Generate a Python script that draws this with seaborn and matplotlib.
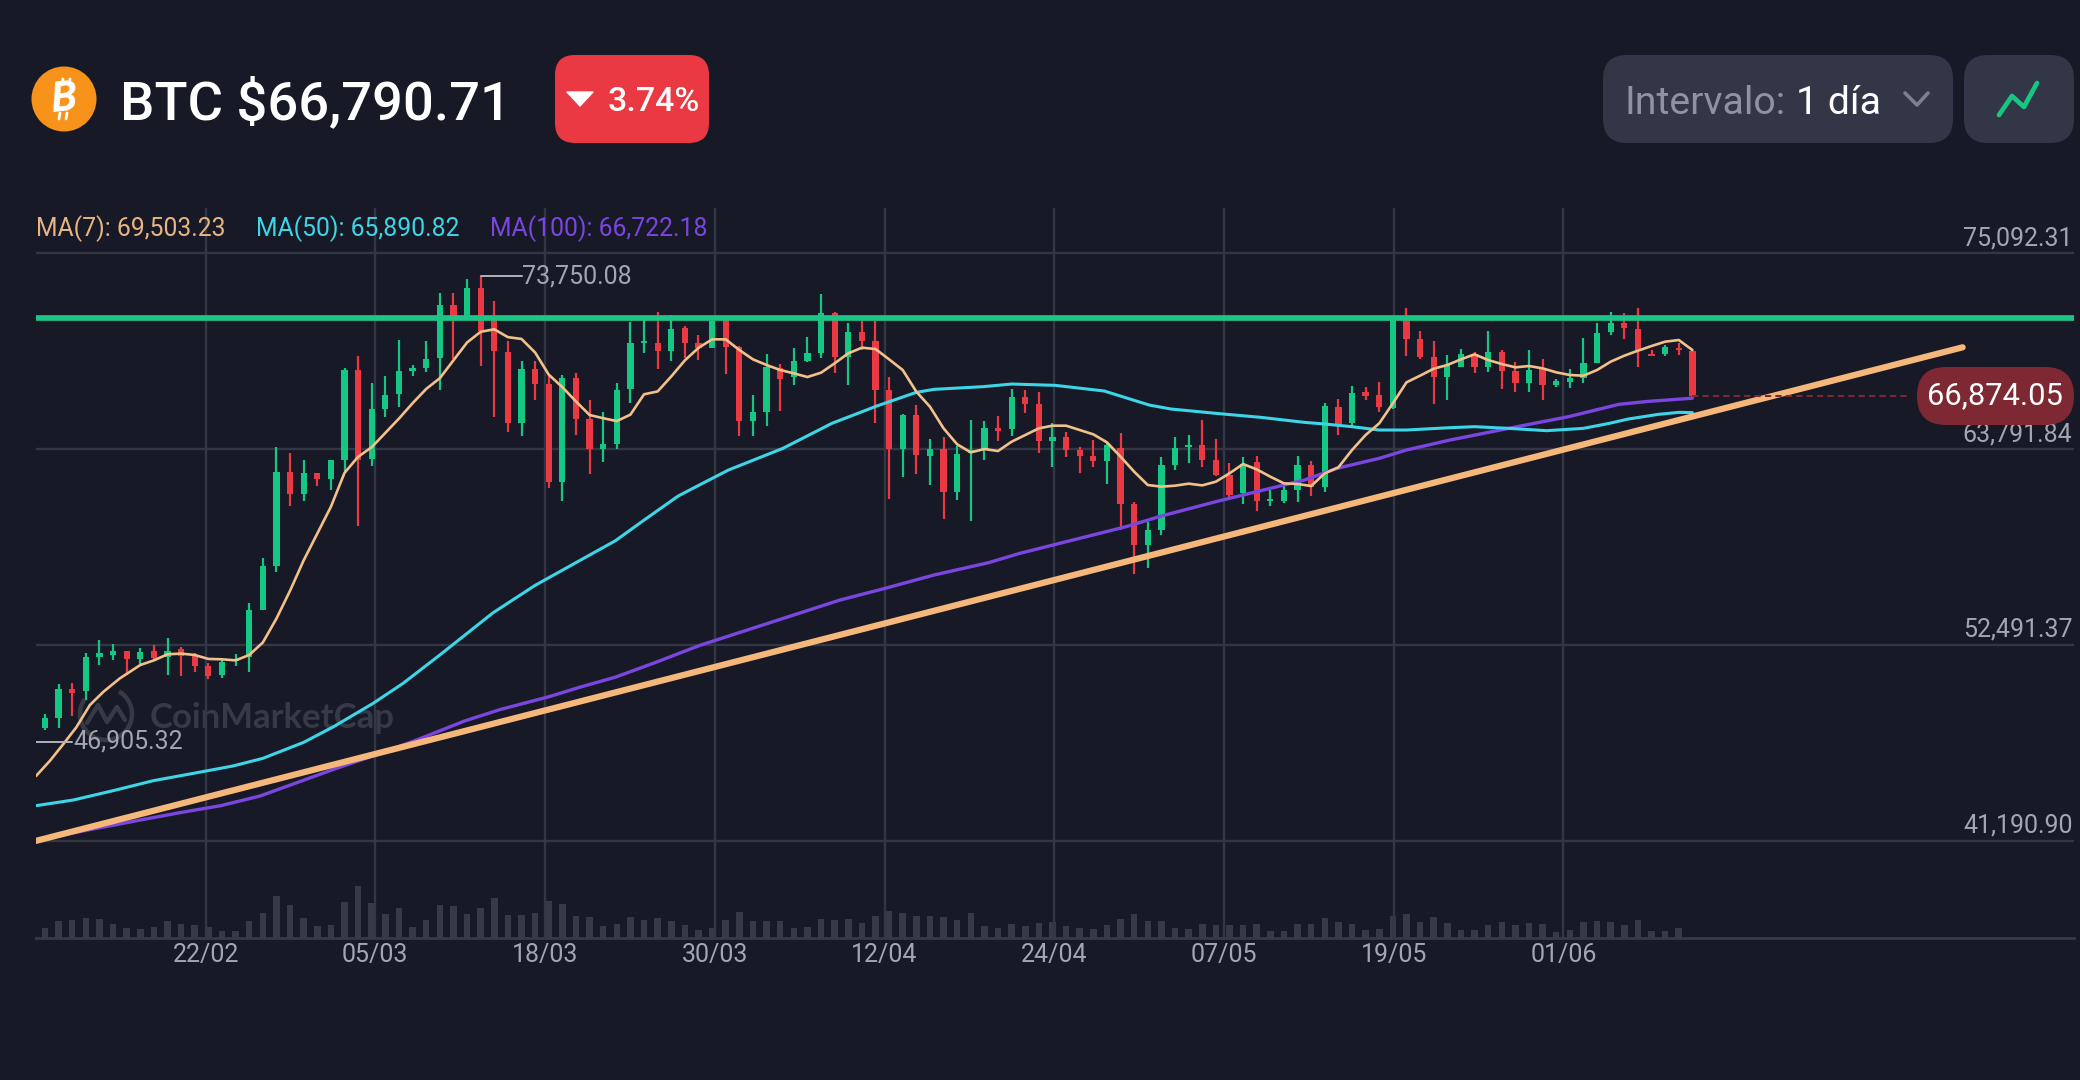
import matplotlib
matplotlib.use('Agg')
import matplotlib.pyplot as plt
from matplotlib.patches import Arc, Circle, FancyBboxPatch, Polygon
import pandas as pd
import seaborn as sns

# Daily candles, one row of ten days per line (USD)
opens = [47728, 48305, 49953, 49850, 51807, 51910, 52157, 51663, 52116, 51807,
         52281, 51910, 51292, 50777, 51560, 51807, 54485, 57060, 62478, 61180,
         62416, 62045, 63178, 68328, 63240, 66083, 66948, 68287, 68493, 69049,
         72098, 71480, 73066, 71377, 69379, 65300, 68390, 67566, 61901, 67916,
         65506, 63817, 64064, 67257, 69935, 69935, 69461, 70751, 69886, 69636,
         71232, 69655, 65426, 65945, 68444, 67964, 68867, 69348, 71617, 69117,
         70559, 70040, 67194, 63791, 65752, 63407, 63791, 61292, 63580, 63734,
         64984, 64945, 66810, 66387, 64272, 64464, 63734, 63407, 63099, 63830,
         60619, 58254, 59119, 62868, 63887, 64022, 63157, 62292, 61234, 63061,
         60811, 60792, 61426, 62868, 61580, 66233, 65272, 67060, 66906, 66137,
         71271, 70117, 69079, 67925, 68540, 69252, 68502, 69406, 68310, 67617,
         68387, 67483, 67675, 67867, 68771, 70540, 71040, 70713, 69271, 69252,
         69636, 69463]
closes = [48305, 49953, 49706, 51807, 52013, 52157, 51663, 52075, 51745, 52116,
          51869, 51292, 50674, 51498, 51704, 54485, 57060, 62478, 61180, 62416,
          62045, 63178, 68328, 63178, 66083, 66907, 68287, 68493, 69008, 72098,
          71480, 73066, 70615, 69420, 65300, 68390, 67566, 61901, 67916, 65506,
          63817, 64064, 67216, 69935, 70038, 69461, 70697, 69886, 69636, 71174,
          69694, 65426, 65945, 68502, 67829, 68867, 69309, 71617, 69079, 70559,
          70040, 67194, 63791, 65752, 63445, 63791, 61292, 63484, 63734, 64984,
          64830, 66810, 66387, 64272, 64464, 63734, 63407, 63099, 64022, 60619,
          58254, 59119, 62868, 63868, 64022, 63157, 62292, 61138, 62926, 60811,
          60927, 61426, 62868, 61580, 66272, 65233, 67002, 66868, 66233, 71232,
          70136, 69117, 67964, 68636, 69252, 68502, 69406, 68310, 67617, 68348,
          67483, 67714, 67906, 68771, 70501, 71078, 70771, 69502, 69175, 69655,
          69502, 66874]
highs = [48511, 50262, 50324, 52013, 52796, 52528, 52157, 52322, 52466, 52899,
         52363, 52013, 51457, 51601, 51951, 54897, 57513, 63899, 63549, 63137,
         62416, 63178, 68493, 69152, 67607, 68019, 70079, 68637, 69997, 72819,
         72778, 73622, 73750, 72304, 69997, 68843, 68864, 68081, 68081, 68184,
         66598, 65918, 67607, 71109, 71480, 71686, 71521, 70886, 70348, 71424,
         71424, 69732, 66906, 69252, 68694, 69598, 70271, 72713, 71713, 71078,
         71194, 71174, 67925, 65810, 66329, 64349, 64503, 63984, 65464, 65406,
         65714, 67233, 67195, 67060, 65272, 64753, 63887, 64310, 64176, 64695,
         60754, 59581, 63311, 64464, 64599, 65464, 64368, 62964, 63349, 63407,
         61426, 61811, 63388, 63080, 66425, 66695, 67425, 67348, 67675, 71424,
         71943, 70617, 70021, 69213, 69559, 69406, 70598, 69502, 68829, 69502,
         68983, 67829, 68406, 70213, 71040, 71713, 71617, 71905, 69502, 69790,
         69886, 69540]
lows = [47584, 47728, 48408, 49335, 51354, 51601, 50880, 51395, 51601, 50777,
        50674, 50921, 50530, 50612, 51292, 50921, 54485, 56710, 60500, 60809,
        61654, 61427, 62519, 59326, 62828, 65650, 66227, 68019, 68246, 67195,
        69008, 71480, 68555, 65650, 64785, 64558, 66598, 61551, 60809, 64579,
        62354, 63034, 63817, 66433, 69317, 68390, 68864, 69059, 68925, 69636,
        68117, 64560, 64541, 65118, 66002, 67483, 68829, 69059, 68194, 67483,
        69502, 65272, 60926, 62195, 62330, 61715, 59775, 60830, 59659, 63157,
        64253, 64541, 65849, 63580, 62772, 63311, 62426, 62772, 61792, 59119,
        56562, 56946, 58830, 62580, 62964, 62734, 62234, 60888, 60619, 60215,
        60503, 60657, 60754, 61100, 61330, 64599, 65079, 66618, 65945, 66079,
        69156, 68963, 66368, 66618, 68502, 68194, 68252, 67233, 67098, 67098,
        66618, 67387, 67329, 67579, 68732, 70386, 70117, 68502, 69175, 69156,
        69232, 66810]

# Traded volume, arbitrary units, last candle has none
volume = [29, 52, 54, 59, 58, 43, 30, 27, 32, 51, 43, 39, 32, 22, 22, 52, 76, 127, 100, 60,
          37, 40, 108, 157, 105, 71, 90, 33, 54, 100, 95, 73, 91, 119, 70, 68, 75, 112, 102, 67,
          63, 37, 42, 64, 55, 61, 52, 38, 25, 30, 53, 77, 52, 52, 52, 30, 32, 57, 55, 58,
          46, 67, 80, 75, 66, 65, 64, 55, 76, 35, 31, 43, 37, 45,
          49, 37, 30, 26, 40, 57, 73, 50, 50, 31, 28, 43, 39, 40, 38, 42, 21, 21, 42, 43,
          60, 48, 43, 25, 28, 67, 71, 49, 64, 44, 23, 23, 40, 49, 40, 44, 42, 18, 25, 49,
          50, 49, 38, 54, 22, 20, 31]

# Moving averages
ma7_days = [-0.66, 0.37, 1.35, 2.3, 3.3, 4.3, 5.5] + list(range(7, 122))
ma7 = [44930, 45815, 46776, 47738, 49026, 49795, 50564,
       51333, 51601, 51951, 51992, 51910, 51683, 51663, 51601, 51910, 52631,
       54011, 55618, 57369, 58914, 60459, 62416, 63343, 63899, 64723, 65547,
       66433, 67257, 67875, 68905, 69935, 70553, 70697, 70244, 70141, 69358,
       68081, 67360, 66536, 65753, 65568, 65403, 65774, 66948, 67113, 67978,
       68905, 69626, 70117, 70117, 69502, 68963, 68637, 68348, 68156, 67944,
       68194, 68733, 69309, 69636, 69559, 68963, 68348, 67098, 66233, 64984,
       64061, 63599, 63791, 63676, 64214, 64599, 64984, 65137, 65137, 64887,
       64637, 64176, 63349, 62484, 61715, 61619, 61677, 61792, 61695, 61907,
       62388, 62926, 62618, 62196, 61811, 61772, 61657, 62388, 62734, 63734,
       64599, 65272, 66425, 67637, 68021, 68425, 68637, 68963, 69252, 68925,
       68694, 68502, 68579, 68444, 68214, 68060, 68021, 68348, 68829, 69175,
       69463, 69732, 69982, 70079, 69503]
ma50_days = [-0.66, 2.08, 5, 7.96, 10.9, 13.8, 16, 19, 21.2, 24.1, 26.3, 29, 32.9, 36, 39.3, 41.9,
             43.9, 46.5, 48.3, 50.2, 54.2, 57.8, 61.1, 64, 65.3, 68.9, 71, 74.2, 77.8, 81.1, 82.7,
             86, 89.3, 92.5, 94, 96, 98, 100, 103.2, 105, 107.5, 110.3, 113, 114.9, 116.3, 118.5, 120, 121]
ma50 = [43219, 43546, 44084, 44661, 45084, 45507, 45949, 46872, 47776, 49122, 50276, 51910, 54341, 55927, 57369, 58502,
        59635, 61077, 61811, 62580, 63830, 65272, 66272, 67060, 67233, 67387, 67540, 67464, 67137, 66329, 66099,
        65849, 65618, 65329, 65233, 65079, 64887, 64887, 65022, 65079, 64983, 64849, 64983, 65272, 65522, 65791, 65906, 65891]
ma100_days = [-0.66, 3.8, 7, 9.9, 12.9, 15.8, 18.7, 21.4, 24.3, 27.3, 30.8, 33.4, 37, 39.3, 41.9, 44.9, 48.1,
              58.4, 61.7, 65.3, 69.3, 71.6, 75.5, 79.4, 82, 86, 89.3, 92.5, 94.9, 98, 100, 103.2,
              107.5, 111.9, 115.6, 117.8, 121]
ma100 = [41239, 41912, 42392, 42815, 43219, 43777, 44604, 45373, 46142, 47007, 48099, 48758, 49500, 50056, 50633, 51498, 52466,
         55082, 55754, 56524, 57235, 57773, 58542, 59311, 59927, 60754, 61388, 62003, 62676, 63253, 63734, 64310,
         64983, 65656, 66368, 66541, 66722]

# Hand drawn lines on the chart
trend_days = [-0.66, 140.85]
trend_prices = [41190, 69658]
resistance_price = 71340

price_levels = [75092.31, 63791.84, 52491.37, 41190.90]
date_positions = [11.8, 24.26, 36.73, 49.2, 61.67, 74.13, 86.6, 99.07, 111.53]
date_labels = ['22/02', '05/03', '18/03', '30/03', '12/04', '24/04', '07/05', '19/05', '01/06']
last_price = 66874.05
high_price = 73750.08
low_price = 46905.32

BG = '#171a26'
GRID = '#333644'
LABEL = '#a3a5b2'
GREEN = '#16c784'
RED = '#ea3943'
CHIP = '#333646'

sns.set_theme(style='dark', rc={'figure.facecolor': BG, 'axes.facecolor': BG})
plt.rcParams['font.family'] = ['Roboto', 'DejaVu Sans']

fig = plt.figure(figsize=(20.8, 10.8), dpi=100, facecolor=BG)

# Watermark sits behind the chart
back = fig.add_axes([0, 0, 1, 1], zorder=0)
back.set_xlim(0, 2080)
back.set_ylim(1080, 0)
back.axis('off')
back.add_patch(Arc((106, 714), 52, 52, theta1=-60, theta2=215, color='#363947', lw=3.2))
back.plot([87, 98, 107, 117, 125], [723, 705, 722, 707, 720], color='#363947', lw=3.2)
back.text(150, 718, 'CoinMarketCap', color='#363947', fontsize=25, fontweight='bold',
          va='center', ha='left', family=['Lato', 'DejaVu Sans'])

left, right, top, bottom = 36, 2074, 208, 938
rect = [left / 2080, (1080 - bottom) / 1080, (right - left) / 2080, (bottom - top) / 1080]

# Volume underneath, on its own scale
vol_ax = fig.add_axes(rect, zorder=1, facecolor='none')
vol_df = pd.DataFrame({'day': range(len(volume)), 'volume': volume})
sns.barplot(data=vol_df, x='day', y='volume', native_scale=True, color='#363946',
            saturation=1, width=0.48, linewidth=0, edgecolor='none', ax=vol_ax)
vol_ax.set_xlim(-0.66, 149.03)
vol_ax.set_ylim(0, 2190)
vol_ax.axis('off')

ax = fig.add_axes(rect, zorder=2, facecolor='none')
ax.set_xlim(-0.66, 149.03)
ax.set_ylim(35587, 77693)

# Grid
ax.set_yticks(price_levels)
ax.set_yticklabels([])
ax.set_xticks(date_positions)
ax.set_xticklabels(date_labels)
ax.tick_params(axis='x', length=0, labelsize=18, labelcolor=LABEL, pad=3.5)
ax.tick_params(axis='y', length=0)
ax.grid(True, color=GRID, lw=1.7)
ax.set_axisbelow(True)
for name, spine in ax.spines.items():
    spine.set_visible(name == 'bottom')
ax.spines['bottom'].set_color('#363946')
ax.spines['bottom'].set_linewidth(2)

# Candles
days = list(range(len(opens)))
colors = [GREEN if c >= o else RED for o, c in zip(opens, closes)]
ax.vlines(days, lows, highs, colors=colors, lw=1.6, zorder=3)
ax.bar(days, [abs(c - o) for o, c in zip(opens, closes)], bottom=[min(o, c) for o, c in zip(opens, closes)],
       width=0.46, color=colors, linewidth=0, edgecolor='none', zorder=3)

# Resistance and moving averages
ax.axhline(resistance_price, color='#1cc586', lw=4.1, zorder=4)
sns.lineplot(x=ma100_days, y=ma100, color='#7b45e0', lw=2.4, sort=False, errorbar=None, ax=ax, zorder=5)
sns.lineplot(x=ma50_days, y=ma50, color='#3cd6e8', lw=2.2, sort=False, errorbar=None, ax=ax, zorder=5)
sns.lineplot(x=ma7_days, y=ma7, color='#f3c08a', lw=1.9, sort=False, errorbar=None, ax=ax, zorder=5)
sns.lineplot(x=trend_days, y=trend_prices, color='#f5b87a', lw=4.5, sort=False, errorbar=None, ax=ax, zorder=6)
ax.set_xlabel('')
ax.set_ylabel('')
ax.set_xlim(-0.66, 149.03)
ax.set_ylim(35587, 77693)

# Price scale labels, just above their gridlines
for level in price_levels:
    ax.annotate(f'{level:,.2f}', xy=(1, level), xycoords=('axes fraction', 'data'), xytext=(-1, 10.8),
                textcoords='offset points', ha='right', va='center', color=LABEL, fontsize=18, zorder=7)

# High and low markers
ax.plot([32, 35], [high_price, high_price], color='#b0b2bd', lw=1.4, zorder=6)
ax.text(35.02, high_price, f'{high_price:,.2f}', color=LABEL, fontsize=18, va='center', ha='left', zorder=7)
ax.plot([-0.66, 1.98], [low_price, low_price], color='#b0b2bd', lw=1.4, zorder=6)
ax.text(2.05, low_price, f'{low_price:,.2f}', color=LABEL, fontsize=18, va='center', ha='left', zorder=7)

# Dashed line from the last candle to the price pill
ax.plot([121, 137], [last_price, last_price], color='#7d2832', lw=1.5, ls=(0, (3, 2)), zorder=6)

# Header, buttons, legend, price pill
ui = fig.add_axes([0, 0, 1, 1], zorder=5)
ui.set_xlim(0, 2080)
ui.set_ylim(1080, 0)
ui.axis('off')
ui.patch.set_visible(False)


def chip(x0, y0, x1, y1, radius, color):
    ui.add_patch(FancyBboxPatch((x0 + radius, y0 + radius), x1 - x0 - 2 * radius, y1 - y0 - 2 * radius,
                                boxstyle=f'round,pad={radius},rounding_size={radius}', fc=color, ec='none'))


ui.add_patch(Circle((64, 99), 32.5, fc='#f7931a', ec='none'))
ui.text(64, 99.5, 'B', color='white', fontsize=30, fontweight='bold', style='italic',
        ha='center', va='center', rotation=6)
for bx in (62, 69):
    ui.plot([bx + 1, bx], [79, 85], color='white', lw=2)
    ui.plot([bx - 2, bx - 3], [113, 119], color='white', lw=2)
ui.text(120, 104, 'BTC $66,790.71', color='white', fontsize=39.2, fontweight='medium', ha='left', va='center')

chip(555, 55, 709, 143, 20, '#ea3943')
ui.add_patch(Polygon([(567, 92), (593, 92), (580, 106)], closed=True, fc='white', ec='white', lw=1, joinstyle='round'))
ui.text(608, 102, '3.74%', color='white', fontsize=24.5, fontweight='medium', ha='left', va='center')

chip(1603, 55, 1953, 143, 24, CHIP)
chip(1964, 55, 2074, 143, 24, CHIP)
ui.text(1625, 103, 'Intervalo:', color='#8f92a3', fontsize=28.3, ha='left', va='center')
ui.text(1796, 103, '1 día', color='white', fontsize=28.3, ha='left', va='center')
ui.plot([1905, 1917, 1928], [93, 105, 93], color='#7c7f8e', lw=2.6, solid_capstyle='round', solid_joinstyle='round')
ui.plot([1999, 2012, 2024, 2037], [115, 96, 107, 83], color=GREEN, lw=3.4, solid_capstyle='round', solid_joinstyle='round')

ui.text(36, 229, 'MA(7): 69,503.23', color='#e8b483', fontsize=17.8, ha='left', va='center')
ui.text(256, 229, 'MA(50): 65,890.82', color='#3cd6e8', fontsize=17.8, ha='left', va='center')
ui.text(490, 229, 'MA(100): 66,722.18', color='#7b45e0', fontsize=17.8, ha='left', va='center')

chip(1917, 367, 2074, 425, 29, '#7d2832')
ui.text(1995, 396, f'{last_price:,.2f}', color='white', fontsize=22.2, ha='center', va='center')

fig.savefig('out.png', dpi=100, facecolor=BG)
